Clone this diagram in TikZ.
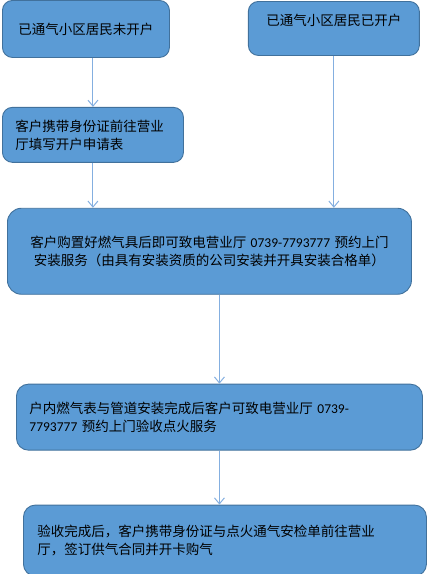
\documentclass[tikz,border=0pt]{standalone}
\usepackage{fontspec}
\setmainfont{Noto Sans CJK SC}
\newfontfamily\numfont{Carlito}
\usetikzlibrary{arrows.meta, positioning}
\definecolor{boxfill}{HTML}{5B9BD5}
\definecolor{boxline}{HTML}{41719C}
\definecolor{arrowblue}{HTML}{84AFE0}

\begin{document}
\begin{tikzpicture}[
    box/.style={rectangle, draw=boxline, fill=boxfill, line width=0.9pt, rounded corners=10pt, inner ysep=0pt, font=\fontsize{13.5}{18}\selectfont},
    arrow/.style={-{Straight Barb[length=6pt, width=10pt]}, draw=arrowblue, line width=1pt}
]
\useasboundingbox (0,0) rectangle (427pt,-574pt);

% Starting cases
\node[box, anchor=north west, text width=141pt, inner xsep=13pt, minimum height=57pt, align=center] (notopen) at (2pt,0) {已通气小区居民未开户};
\node[box, below right=1pt and 78pt of notopen.north east, anchor=north west, inner sep=0pt, text width=171pt, text height=24pt, text depth=30pt, align=center] (opened) {已通气小区居民已开户};

% Application
\node[box, below right=49pt and 0pt of notopen.south west, text width=155pt, inner xsep=13pt, minimum height=55pt, align=left] (apply) {客户携带身份证前往营业\\厅填写开户申请表};

% Installation
\node[box, below right=45pt and 5pt of apply.south west, text width=380pt, inner xsep=12pt, minimum height=86pt, rounded corners=14pt, align=center] (install) {客户购置好燃气具后即可致电营业厅 {\numfont 0739-7793777} 预约上门\\安装服务（由具有安装资质的公司安装并开具安装合格单）};

% Inspection
\node[box, below right=89pt and 9pt of install.south west, text width=380pt, inner xsep=13pt, minimum height=66pt, rounded corners=12pt, align=left] (inspect) {户内燃气表与管道安装完成后客户可致电营业厅 {\numfont 0739-}\\{\numfont 7793777} 预约上门验收点火服务};

% Contract
\node[box, below right=54pt and 7pt of inspect.south west, text width=375pt, inner xsep=14pt, minimum height=71pt, rounded corners=12pt, align=left] (contract) {验收完成后，客户携带身份证与点火通气安检单前往营业\\厅，签订供气合同并开卡购气};

% Arrows
\draw[arrow] (apply.north |- notopen.south) -- (apply.north);
\draw[arrow] (apply.south) -- (apply.south |- install.north);
\draw[arrow] (opened.south) -- (opened.south |- install.north);
\draw[arrow] (inspect.north |- install.south) -- (inspect.north);
\draw[arrow] (inspect.south) -- (inspect.south |- contract.north);

\end{tikzpicture}
\end{document}
